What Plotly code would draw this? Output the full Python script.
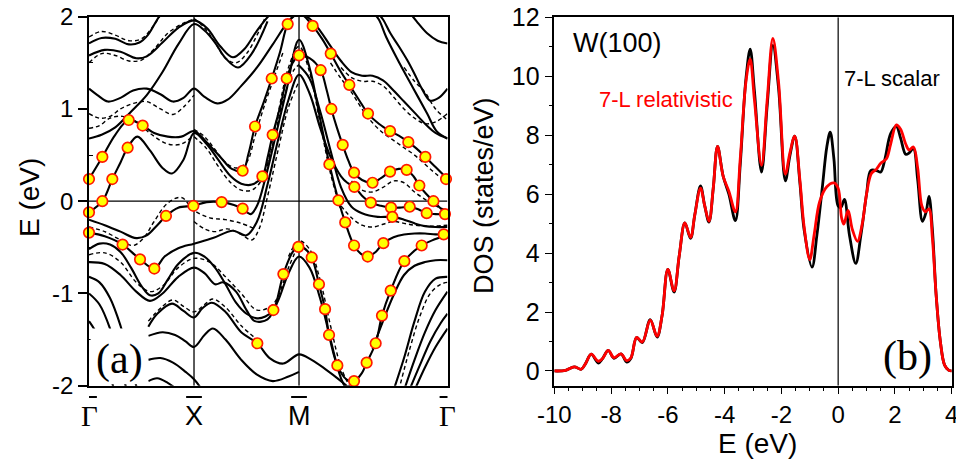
import plotly.graph_objects as go

# ---------------- figure geometry ----------------
W, H = 956, 464


def px(x):
    return x / W


def py(y):
    return (H - y) / H


SANS = "Arial, 'Liberation Sans', sans-serif"
SERIF = "'Times New Roman', 'Liberation Serif', serif"

# ---------------- (a) band structure along Gamma-X-M-Gamma ----------------
path_k = [0.0, 1.0, 2.0, 3.414]
path_labels = ["Γ", "X", "M", "Γ"]

# solid bands (scalar-relativistic)
s1_k = [0, 0.12, 0.25, 0.38, 0.48, 0.56, 0.64, 0.72]
s1_e = [1.71, 1.77, 1.76, 1.70, 1.72, 1.80, 1.95, 2.10]

s2_k = [0, 0.15, 0.3, 0.45, 0.55, 0.7, 0.85, 1.0, 1.12, 1.25, 1.37, 1.48, 1.6, 1.72, 1.8]
s2_e = [1.58, 1.64, 1.62, 1.55, 1.57, 1.72, 1.88, 1.96, 1.88, 1.68, 1.56, 1.65, 1.85, 2.02, 2.10]

s3_k = [0, 0.12, 0.25, 0.4, 0.55, 0.7, 0.85, 1.0, 1.1, 1.2, 1.3, 1.42, 1.55, 1.7]
s3_e = [0.68, 0.72, 0.80, 0.97, 1.15, 1.40, 1.70, 1.92, 1.85, 1.72, 1.55, 1.45, 1.60, 1.95]

s4_k = [0, 0.08, 0.18, 0.3, 0.42, 0.55, 0.68, 0.8, 0.9, 1.0, 1.1, 1.22, 1.32, 1.45, 1.6, 1.75, 1.9, 2.0]
s4_e = [1.22, 1.15, 1.08, 1.12, 1.20, 1.22, 1.16, 1.08, 1.12, 1.22, 1.13, 1.06, 1.10, 1.25, 1.45, 1.70, 1.95, 2.05]

p1_k = [0, 0.127, 0.25, 0.378, 0.511, 0.62, 0.75, 0.88, 1.0, 1.12, 1.25, 1.36, 1.463, 1.52, 1.581,
        1.66, 1.74, 1.82, 1.892, 1.96, 2.03, 2.13, 2.22, 2.302, 2.39, 2.479, 2.57, 2.657, 2.76,
        2.867, 2.95, 3.041, 3.12, 3.203, 3.3, 3.414]
p1_e = [0.24, 0.48, 0.72, 0.88, 0.82, 0.74, 0.70, 0.70, 0.76, 0.64, 0.48, 0.35, 0.33, 0.52, 0.81,
        1.06, 1.33, 1.62, 1.92, 2.02, 2.02, 1.90, 1.76, 1.60, 1.42, 1.26, 1.10, 0.95, 0.84,
        0.76, 0.71, 0.64, 0.57, 0.48, 0.37, 0.24]

p2_k = [0, 0.127, 0.222, 0.30, 0.368, 0.46, 0.58, 0.70, 0.79, 0.9, 1.0, 1.12, 1.23, 1.35, 1.45,
        1.55, 1.651, 1.70, 1.749, 1.82, 1.883, 1.94, 2.0, 2.1, 2.206, 2.26, 2.308, 2.36, 2.416,
        2.47, 2.524, 2.6, 2.70, 2.78, 2.867, 2.95, 3.025, 3.09, 3.146, 3.21, 3.28, 3.35, 3.414]
p2_e = [-0.12, 0.0, 0.24, 0.42, 0.58, 0.70, 0.55, 0.36, 0.30, 0.45, 0.74, 0.62, 0.45, 0.27, 0.19,
        0.18, 0.27, 0.47, 0.72, 1.02, 1.33, 1.50, 1.58, 1.55, 1.42, 1.22, 1.0, 0.80, 0.61,
        0.44, 0.31, 0.23, 0.20, 0.25, 0.32, 0.35, 0.34, 0.27, 0.17, 0.08, 0.0, -0.08, -0.14]

p3_k = [0, 0.15, 0.32, 0.486, 0.622, 0.72, 0.85, 1.0, 1.18, 1.37, 1.5, 1.6, 1.7, 1.8, 1.9, 2.0,
        2.1, 2.2, 2.3, 2.4, 2.46, 2.527, 2.6, 2.683, 2.78, 2.876, 2.96, 3.054, 3.14, 3.216, 3.3, 3.414]
p3_e = [-0.34, -0.38, -0.47, -0.63, -0.73, -0.60, -0.51, -0.46, -0.40, -0.32, -0.37, -0.22, 0.18,
        0.66, 1.10, 1.37, 1.17, 0.80, 0.48, 0.27, 0.20, 0.155, 0.06, -0.015, -0.05, -0.07, -0.07,
        -0.06, -0.09, -0.13, -0.14, -0.14]

p4_k = [0, 0.15, 0.3, 0.45, 0.55, 0.65, 0.733, 0.85, 0.994, 1.12, 1.263, 1.38, 1.463, 1.54, 1.6,
        1.68, 1.78, 1.88, 2.0, 2.1, 2.2, 2.289, 2.375, 2.44, 2.524, 2.59, 2.654, 2.73, 2.803, 2.9,
        3.0, 3.1, 3.2, 3.3, 3.414]
p4_e = [-0.20, -0.26, -0.33, -0.40, -0.37, -0.26, -0.16, -0.07, -0.05, -0.01, -0.01, -0.04, -0.08,
        -0.14, -0.05, 0.25, 0.72, 1.20, 1.75, 1.45, 0.90, 0.40, 0.01, -0.23, -0.48, -0.57, -0.60,
        -0.55, -0.455, -0.39, -0.36, -0.35, -0.35, -0.36, -0.36]

p5_k = [2.0, 2.1, 2.2, 2.3, 2.4, 2.5, 2.6, 2.75, 2.889, 3.0, 3.1, 3.2, 3.3, 3.414]
p5_e = [1.47, 1.33, 0.98, 0.55, 0.15, -0.06, -0.13, -0.17, -0.17, -0.20, -0.24, -0.27, -0.28, -0.28]

v_k = [0, 0.1, 0.2, 0.3, 0.4, 0.5, 0.58, 0.66, 0.75, 0.85, 1.0, 1.1, 1.2, 1.3, 1.4, 1.5, 1.6, 1.68,
       1.756, 1.851, 1.94, 1.994, 2.05, 2.121, 2.19, 2.248, 2.286, 2.365, 2.45, 2.524, 2.6, 2.644,
       2.73, 2.79, 2.873, 3.003, 3.168, 3.3, 3.414]
v_e = [-0.52, -0.46, -0.47, -0.55, -0.72, -0.92, -1.02, -1.0, -0.85, -0.68, -0.56, -0.60, -0.72,
       -0.90, -1.10, -1.22, -1.27, -1.25, -1.18, -0.79, -0.55, -0.495, -0.51, -0.61, -0.90, -1.17,
       -1.45, -1.78, -1.93, -1.95, -1.86, -1.75, -1.54, -1.24, -0.97, -0.65, -0.48, -0.41, -0.36]

q2_k = [0, 0.15, 0.3, 0.45, 0.58, 0.7, 0.85, 1.0, 1.1, 1.2, 1.28, 1.4, 1.5, 1.58, 1.7, 1.8, 1.9,
        2.0, 2.1, 2.2, 2.3, 2.4, 2.48]
q2_e = [-0.66, -0.68, -0.80, -0.98, -1.08, -1.0, -0.82, -0.72, -0.78, -0.90, -0.88, -0.98, -1.18,
        -1.30, -1.28, -1.08, -0.78, -0.60, -0.72, -1.05, -1.50, -1.92, -2.10]

q3_k = [0, 0.1, 0.2, 0.3, 0.38, 0.46]
q3_e = [-0.82, -0.88, -1.05, -1.35, -1.68, -2.05]

q4_k = [0, 0.1, 0.2, 0.28, 0.36]
q4_e = [-1.0, -1.12, -1.38, -1.70, -2.05]

q5_k = [0, 0.08, 0.16, 0.24]
q5_e = [-1.30, -1.45, -1.72, -2.05]

r1_k = [0.565, 0.65, 0.79, 0.9, 1.0, 1.08, 1.17, 1.3, 1.45, 1.603, 1.72, 1.85, 2.0, 2.12, 2.25, 2.4, 2.5]
r1_e = [-1.36, -1.22, -1.11, -1.19, -1.26, -1.16, -1.10, -1.20, -1.42, -1.54, -1.70, -1.76, -1.66,
        -1.72, -1.82, -1.95, -2.05]

r2_k = [0.565, 0.7, 0.82, 0.92, 1.0, 1.1, 1.18, 1.3, 1.45, 1.6, 1.75, 1.9, 2.0]
r2_e = [-1.46, -1.42, -1.45, -1.52, -1.58, -1.45, -1.38, -1.50, -1.72, -1.88, -1.95, -1.90, -1.85]

r3_k = [0.565, 0.68, 0.8, 0.92, 1.0, 1.08]
r3_e = [-1.72, -1.70, -1.75, -1.85, -1.93, -2.05]

r4_k = [0.565, 0.65, 0.75, 0.85]
r4_e = [-1.95, -1.92, -1.97, -2.05]

t1_k = [2.9, 3.0, 3.1, 3.2, 3.3, 3.414]
t1_e = [-2.05, -1.70, -1.30, -0.98, -0.84, -0.82]

t2_k = [3.0, 3.1, 3.2, 3.3, 3.414]
t2_e = [-2.05, -1.72, -1.42, -1.18, -0.98]

t3_k = [3.05, 3.15, 3.25, 3.35, 3.414]
t3_e = [-2.05, -1.78, -1.52, -1.32, -1.22]

t4_k = [3.1, 3.2, 3.3, 3.414]
t4_e = [-2.05, -1.80, -1.58, -1.38]

t5_k = [2.7, 2.8, 2.9, 3.0, 3.1, 3.2, 3.3, 3.414]
t5_e = [-1.60, -1.30, -1.02, -0.80, -0.70, -0.66, -0.64, -0.64]

u1_k = [3.05, 3.12, 3.22, 3.32, 3.414]
u1_e = [2.05, 1.95, 1.82, 1.74, 1.71]

u2_k = [2.74, 2.8, 2.87, 2.95, 3.03, 3.1, 3.17, 3.25, 3.33, 3.414]
u2_e = [2.05, 1.97, 1.82, 1.68, 1.53, 1.38, 1.22, 1.09, 1.12, 1.22]

u3_k = [2.7, 2.76, 2.83, 2.96, 3.09, 3.22, 3.31, 3.414]
u3_e = [2.05, 1.97, 1.78, 1.49, 1.22, 0.95, 0.76, 0.68]

u4_k = [2.0, 2.1, 2.2, 2.3, 2.4, 2.5, 2.6, 2.7, 2.8, 2.9, 3.0, 3.1, 3.2, 3.3, 3.414]
u4_e = [2.05, 1.98, 1.85, 1.68, 1.52, 1.40, 1.36, 1.36, 1.31, 1.20, 1.08, 0.96, 0.84, 0.74, 0.68]

solid_bands = [
    (s1_k, s1_e), (s2_k, s2_e), (s3_k, s3_e), (s4_k, s4_e),
    (p1_k, p1_e), (p2_k, p2_e), (p3_k, p3_e), (p4_k, p4_e), (p5_k, p5_e),
    (v_k, v_e), (q2_k, q2_e), (q3_k, q3_e), (q4_k, q4_e), (q5_k, q5_e),
    (r1_k, r1_e), (r2_k, r2_e), (r3_k, r3_e), (r4_k, r4_e),
    (t1_k, t1_e), (t2_k, t2_e), (t3_k, t3_e), (t4_k, t4_e), (t5_k, t5_e),
    (u1_k, u1_e), (u2_k, u2_e), (u3_k, u3_e), (u4_k, u4_e),
]

# dashed bands (fully relativistic)
d1_k = [0, 0.12, 0.25, 0.38, 0.5, 0.62, 0.75, 0.9, 1.0]
d1_e = [1.50, 1.60, 1.58, 1.52, 1.53, 1.65, 1.82, 1.93, 1.97]
d2_k = [0, 0.12, 0.25, 0.38, 0.5, 0.6, 0.7]
d2_e = [1.78, 1.84, 1.80, 1.74, 1.76, 1.88, 2.05]
d3_k = [0, 0.1, 0.2, 0.3, 0.42, 0.55, 0.68, 0.8, 0.9, 1.0]
d3_e = [0.95, 0.90, 0.92, 1.0, 1.06, 1.08, 1.0, 0.94, 1.02, 1.15]
d4_k = [0, 0.1, 0.2, 0.32, 0.45, 0.6, 0.75, 0.88, 1.0]
d4_e = [0.79, 0.82, 0.90, 0.92, 0.86, 0.72, 0.62, 0.62, 0.72]
d5_k = [1.0, 1.12, 1.23, 1.35, 1.45, 1.55, 1.65, 1.75, 1.85, 1.95, 2.0]
d5_e = [0.70, 0.57, 0.38, 0.20, 0.12, 0.12, 0.24, 0.62, 1.10, 1.42, 1.48]
d6_k = [0, 0.15, 0.3, 0.42, 0.52, 0.62, 0.75, 0.88, 1.0, 1.15, 1.3, 1.45, 1.58]
d6_e = [-0.28, -0.33, -0.42, -0.48, -0.40, -0.22, -0.02, 0.04, -0.10, -0.18, -0.20, -0.24, -0.30]
d7_k = [0, 0.15, 0.3, 0.45, 0.58, 0.7, 0.85, 1.0, 1.15, 1.3, 1.45, 1.6, 1.75, 1.9, 2.0]
d7_e = [-0.58, -0.56, -0.66, -0.88, -0.98, -0.92, -0.72, -0.62, -0.66, -0.82, -1.0, -1.18, -1.12,
        -0.72, -0.45]
d8_k = [1.9, 2.0, 2.1, 2.2, 2.3, 2.4, 2.5]
d8_e = [-0.60, -0.43, -0.52, -0.85, -1.35, -1.80, -2.05]
d9_k = [2.4, 2.5, 2.6, 2.7, 2.8, 2.9, 3.0, 3.1, 3.2, 3.3, 3.414]
d9_e = [-0.05, -0.18, -0.26, -0.28, -0.25, -0.22, -0.24, -0.26, -0.27, -0.27, -0.26]
d10_k = [2.3, 2.4, 2.5, 2.6, 2.7, 2.8, 2.9, 3.0, 3.1, 3.2, 3.3, 3.414]
d10_e = [1.50, 1.33, 1.18, 1.0, 0.85, 0.74, 0.66, 0.58, 0.50, 0.40, 0.30, 0.20]
d11_k = [2.4, 2.5, 2.6, 2.7, 2.8, 2.9, 3.0, 3.1, 3.2, 3.3, 3.414]
d11_e = [1.45, 1.34, 1.30, 1.30, 1.25, 1.13, 1.0, 0.90, 0.84, 0.86, 0.95]
d12_k = [3.0, 3.1, 3.2, 3.3, 3.414]
d12_e = [1.45, 1.30, 1.18, 1.0, 0.88]
d13_k = [1.7, 1.8, 1.9, 2.0, 2.1, 2.2, 2.3, 2.4]
d13_e = [0.40, 0.95, 1.45, 1.68, 1.40, 0.85, 0.30, -0.10]
d14_k = [2.5, 2.6, 2.7, 2.8, 2.9, 3.0, 3.1, 3.2, 3.3, 3.414]
d14_e = [0.22, 0.12, 0.10, 0.15, 0.22, 0.20, 0.10, 0.02, -0.05, -0.10]
d15_k = [0.565, 0.7, 0.8, 0.9, 1.0, 1.1, 1.18, 1.3, 1.45, 1.6]
d15_e = [-1.30, -1.14, -1.07, -1.14, -1.20, -1.12, -1.06, -1.15, -1.35, -1.50]
d16_k = [1.0, 1.1, 1.2, 1.3, 1.4, 1.5, 1.6, 1.7]
d16_e = [1.98, 1.88, 1.72, 1.55, 1.50, 1.60, 1.80, 2.05]
d17_k = [2.95, 3.05, 3.15, 3.25, 3.35, 3.414]
d17_e = [-2.05, -1.62, -1.25, -1.0, -0.90, -0.88]
d18_k = [1.0, 1.1, 1.2, 1.3, 1.4, 1.5, 1.58, 1.66, 1.75, 1.85]
d18_e = [0.78, 0.70, 0.56, 0.42, 0.36, 0.42, 0.70, 1.00, 1.30, 1.62]
d19_k = [1.0, 1.1, 1.2, 1.32, 1.45, 1.55, 1.62, 1.7, 1.8, 1.9, 2.0]
d19_e = [-0.22, -0.30, -0.33, -0.30, -0.36, -0.42, -0.30, 0.05, 0.55, 1.02, 1.30]

dashed_bands = [
    (d1_k, d1_e), (d2_k, d2_e), (d3_k, d3_e), (d4_k, d4_e), (d5_k, d5_e), (d6_k, d6_e),
    (d7_k, d7_e), (d8_k, d8_e), (d9_k, d9_e), (d10_k, d10_e), (d11_k, d11_e), (d12_k, d12_e),
    (d13_k, d13_e), (d14_k, d14_e), (d15_k, d15_e), (d16_k, d16_e), (d17_k, d17_e),
    (d18_k, d18_e), (d19_k, d19_e),
]

# surface-state weight markers
mark_k = [0, 0.127, 0.378, 0.511, 0.368, 0.222, 0.127, 0, 0, 0.32, 0.486, 0.622, 0.733, 0.994,
          1.263, 1.463, 1.463, 1.581, 1.651, 1.749, 1.740, 1.883, 1.892, 1.851, 1.756, 1.603,
          2.0, 2.13, 1.994, 2.121, 2.19, 2.248, 2.286, 2.365, 2.524, 2.644, 2.73, 2.79, 2.873,
          3.003, 3.168, 3.378, 2.206, 2.302, 2.308, 2.479, 2.657, 2.867, 3.041, 3.203, 3.40,
          2.416, 2.289, 2.524, 2.527, 2.70, 2.867, 3.025, 3.146, 3.28, 3.39, 2.375, 2.44, 2.524,
          2.654, 2.803, 2.683, 2.876, 3.054, 3.216, 2.889]
mark_e = [0.24, 0.48, 0.88, 0.82, 0.58, 0.24, 0.0, -0.12, -0.34, -0.47, -0.63, -0.73, -0.16, -0.05,
          -0.01, -0.08, 0.33, 0.81, 0.27, 0.72, 1.33, 1.33, 1.92, -0.79, -1.18, -1.54,
          1.58, 1.90, -0.495, -0.61, -0.90, -1.17, -1.45, -1.78, -1.95, -1.75, -1.54, -1.24, -0.97,
          -0.65, -0.48, -0.36, 1.42, 1.60, 1.0, 1.26, 0.95, 0.76, 0.64, 0.48, 0.24,
          0.61, 0.40, 0.31, 0.155, 0.20, 0.32, 0.34, 0.17, 0.0, -0.14, 0.01, -0.23, -0.48,
          -0.60, -0.455, -0.015, -0.07, -0.06, -0.13, -0.17]

e_ticks = [-2, -1, 0, 1, 2]
e_tick_text = ["-2", "-1", "0", "1", "2"]
e_minor = [-1.5, -0.5, 0.5, 1.5]

# ---------------- (b) density of states ----------------
rel_e = [-10, -9.6, -9.3, -9.05, -8.9, -8.7, -8.45, -8.3, -8.1, -7.9, -7.65, -7.45, -7.3, -7.1,
         -6.9, -6.62, -6.38, -6.2, -6.0, -5.78, -5.6, -5.4, -5.2, -5.05, -4.85, -4.7, -4.55, -4.4,
         -4.25, -4.05, -3.85, -3.62, -3.45, -3.25, -3.1, -2.95, -2.7, -2.5, -2.3, -2.1, -1.86,
         -1.7, -1.53, -1.35, -1.2, -1.0, -0.85, -0.65, -0.4, -0.15, 0.0, 0.12, 0.2, 0.35, 0.5,
         0.68, 0.85, 1.0, 1.17, 1.35, 1.5, 1.7, 1.85, 2.05, 2.2, 2.38, 2.5, 2.65, 2.8, 2.95,
         3.08, 3.2, 3.32, 3.45, 3.6, 3.75, 3.9, 4.0]
rel_dos = [0.0, 0.02, 0.14, 0.06, 0.25, 0.57, 0.33, 0.42, 0.70, 0.45, 0.58, 0.35, 0.45, 1.14,
           0.98, 1.72, 1.18, 1.90, 3.45, 2.72, 3.90, 5.02, 4.53, 5.30, 6.20, 5.60, 5.08, 6.20,
           7.62, 6.60, 6.10, 5.40, 7.20, 9.80, 10.58, 9.20, 6.98, 9.20, 11.28, 9.80, 6.68,
           7.40, 7.97, 6.50, 4.90, 3.78, 4.60, 5.75, 6.25, 6.38, 6.20, 5.20, 4.98, 5.45, 4.80,
           4.40, 5.00, 6.00, 6.70, 6.85, 7.05, 7.20, 7.70, 8.35, 8.20, 7.70, 7.50, 7.60, 6.90,
           5.60, 5.40, 5.50, 4.50, 2.60, 1.00, 0.20, 0.02, 0.0]

sca_e = [-10, -9.6, -9.3, -9.05, -8.9, -8.7, -8.45, -8.3, -8.1, -7.9, -7.65, -7.45, -7.3, -7.1,
         -6.9, -6.62, -6.38, -6.2, -6.0, -5.78, -5.6, -5.4, -5.2, -5.05, -4.85, -4.7, -4.55, -4.4,
         -4.25, -4.05, -3.85, -3.62, -3.45, -3.25, -3.1, -2.95, -2.7, -2.5, -2.3, -2.1, -1.86,
         -1.7, -1.53, -1.35, -1.2, -0.92, -0.75, -0.55, -0.4, -0.28, -0.15, 0.0, 0.1, 0.22, 0.4,
         0.62, 0.8, 1.0, 1.15, 1.35, 1.5, 1.65, 1.85, 2.05, 2.2, 2.38, 2.5, 2.65, 2.8, 2.97,
         3.1, 3.2, 3.32, 3.45, 3.6, 3.75, 3.9, 4.0]
sca_dos = [0.0, 0.02, 0.14, 0.06, 0.25, 0.57, 0.27, 0.42, 0.70, 0.43, 0.58, 0.30, 0.43, 1.14,
           0.96, 1.74, 1.15, 1.90, 3.45, 2.68, 3.90, 5.02, 4.50, 5.30, 6.28, 5.60, 5.05, 6.20,
           7.62, 6.60, 6.00, 5.10, 7.00, 9.90, 10.92, 9.50, 6.75, 9.00, 11.05, 9.60, 6.45,
           7.30, 7.97, 6.40, 4.80, 3.52, 4.60, 6.30, 7.60, 8.10, 7.20, 5.60, 5.55, 5.82, 4.60,
           3.65, 4.60, 6.00, 6.80, 6.80, 6.75, 7.20, 8.05, 8.30, 7.90, 7.35, 7.40, 7.55, 6.50,
           5.08, 5.40, 5.92, 4.80, 2.60, 1.00, 0.20, 0.02, 0.0]

dos_x_ticks = [-10, -8, -6, -4, -2, 0, 2, 4]
dos_x_text = ["-10", "-8", "-6", "-4", "-2", "0", "2", "4"]
dos_y_ticks = [0, 2, 4, 6, 8, 10, 12]
dos_y_text = ["0", "2", "4", "6", "8", "10", "12"]

# ---------------- traces ----------------
fig = go.Figure()

for bk, be in dashed_bands:
    fig.add_trace(go.Scatter(
        x=bk, y=be, mode="lines", xaxis="x", yaxis="y",
        line=dict(color="black", width=1.4, dash="4px,3px", shape="spline", smoothing=1.0),
        showlegend=False, hoverinfo="skip"))

for bk, be in solid_bands:
    fig.add_trace(go.Scatter(
        x=bk, y=be, mode="lines", xaxis="x", yaxis="y",
        line=dict(color="black", width=2.1, shape="spline", smoothing=1.0),
        showlegend=False, hoverinfo="skip"))

fig.add_trace(go.Scatter(
    x=mark_k, y=mark_e, mode="markers", xaxis="x", yaxis="y", cliponaxis=False,
    marker=dict(size=10.5, color="#FFFF00", line=dict(color="#FF1A00", width=1.7)),
    showlegend=False, hoverinfo="skip"))

fig.add_trace(go.Scatter(
    x=sca_e, y=sca_dos, mode="lines", xaxis="x2", yaxis="y2", name="7-L scalar",
    line=dict(color="black", width=2.8, shape="spline", smoothing=1.0),
    showlegend=False))
fig.add_trace(go.Scatter(
    x=rel_e, y=rel_dos, mode="lines", xaxis="x2", yaxis="y2", name="7-L relativistic",
    line=dict(color="#FF0000", width=2.8, shape="spline", smoothing=1.0),
    showlegend=False))

# ---------------- axes ----------------
frame = dict(showline=True, linecolor="black", linewidth=1.5, mirror=True,
             showgrid=False, zeroline=False, automargin=False)

fig.update_layout(
    width=W, height=H,
    margin=dict(l=0, r=0, t=0, b=0, autoexpand=False),
    paper_bgcolor="white", plot_bgcolor="white",
    xaxis=dict(domain=[px(89), px(447.5)], range=[0, 3.414], showticklabels=False,
               ticks="", **frame),
    yaxis=dict(domain=[py(385.7), py(16.7)], range=[-2, 2], tickvals=e_ticks,
               ticktext=e_tick_text, ticks="outside", ticklen=9, tickwidth=1.5,
               tickcolor="black", tickfont=dict(family=SANS, size=24, color="black"),
               minor=dict(tickvals=e_minor, ticks="inside", ticklen=4, tickwidth=1.2,
                          tickcolor="black"),
               **frame),
    xaxis2=dict(domain=[px(554.3), px(951.7)], range=[-10, 4], anchor="y2",
                tickvals=dos_x_ticks, ticktext=dos_x_text, ticks="outside", ticklen=7,
                tickwidth=1.3, tickcolor="black", ticklabeloverflow="allow",
                tickfont=dict(family=SANS, size=24, color="black"),
                minor=dict(dtick=0.5, tick0=0, ticks="outside", ticklen=4, tickwidth=1.1,
                           tickcolor="black"),
                **frame),
    yaxis2=dict(domain=[py(385.7), py(17.3)], range=[-0.5, 12], anchor="x2",
                tickvals=dos_y_ticks, ticktext=dos_y_text, ticks="outside", ticklen=8,
                tickwidth=1.3, tickcolor="black",
                tickfont=dict(family=SANS, size=25, color="black"),
                minor=dict(dtick=1, tick0=0, ticks="outside", ticklen=4, tickwidth=1.1,
                           tickcolor="black"),
                **frame),
)

# ---------------- guide lines ----------------
shapes = []
for kk in path_k[1:3]:
    shapes.append(dict(type="line", xref="x", yref="y", x0=kk, x1=kk, y0=-2, y1=2,
                       line=dict(color="black", width=1.3), layer="below"))
shapes.append(dict(type="line", xref="x", yref="y", x0=0, x1=3.414, y0=0, y1=0,
                   line=dict(color="black", width=1.3), layer="below"))
shapes.append(dict(type="line", xref="x2", yref="y2", x0=0, x1=0, y0=-0.5, y1=12,
                   line=dict(color="black", width=1.2), layer="below"))
# white panel behind the (a) tag
shapes.append(dict(type="rect", xref="x", yref="y", x0=0.015, x1=0.565, y0=-1.985, y1=-1.38,
                   fillcolor="white", line=dict(width=0), layer="above"))
# bars over the high-symmetry point labels
for kk in path_k:
    shapes.append(dict(type="line", xref="x", yref="paper", x0=kk - 0.075, x1=kk + 0.075,
                       y0=py(397), y1=py(397), line=dict(color="black", width=2)))
fig.update_layout(shapes=shapes)

# ---------------- text ----------------
ann = []
for kk, lab in zip(path_k, path_labels):
    fam = SERIF if lab == "Γ" else SANS
    size = 29 if lab == "Γ" else 27
    ann.append(dict(x=kk, y=py(416), xref="x", yref="paper", text=lab, showarrow=False,
                    xanchor="center", yanchor="middle",
                    font=dict(family=fam, size=size, color="black")))


def label(x, y, text, size, family=SANS, color="black", angle=0, xanchor="center"):
    return dict(x=px(x), y=py(y), xref="paper", yref="paper", text=text, textangle=angle,
                showarrow=False, xanchor=xanchor, yanchor="middle",
                font=dict(family=family, size=size, color=color))


ann += [
    label(29, 198, "E (eV)", 28, angle=-90),
    label(484, 196, "DOS (states/eV)", 27, angle=-90),
    label(757, 443, "E (eV)", 28),
    label(571, 43, "W(100)", 27, xanchor="left"),
    label(842, 79, "7-L scalar", 22, xanchor="left"),
    label(597, 99, "7-L relativistic", 22, color="#FF0000", xanchor="left"),
    label(907, 356, "(b)", 42, family=SERIF),
    label(119, 359, "(a)", 42, family=SERIF),
]
fig.update_layout(annotations=ann)

fig.write_html("out.html")
